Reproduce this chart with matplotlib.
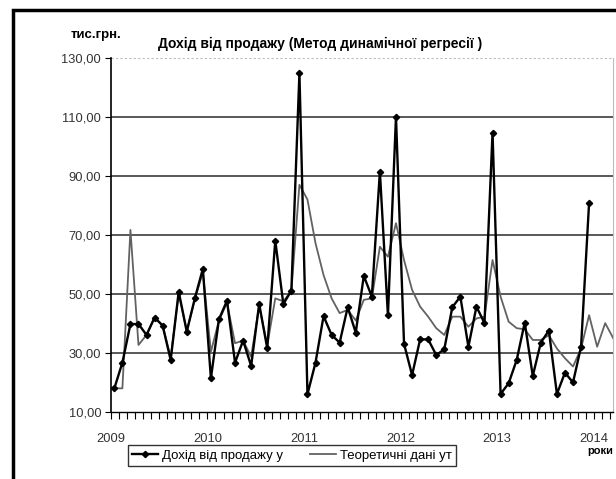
import numpy as np
import matplotlib
matplotlib.use("Agg")
from matplotlib import pyplot as plt
from matplotlib.patches import Rectangle

# monthly revenue, Jan 2009 .. Dec 2013 (тис.грн.)
income = [18.0, 26.7, 39.8, 39.8, 36.1, 42.0, 39.3, 27.6, 50.8, 37.2, 48.5, 58.5,
          21.4, 41.4, 47.7, 26.7, 34.2, 25.6, 46.6, 31.6, 68.1, 46.6, 51.1, 124.8,
          16.0, 26.7, 42.5, 36.1, 33.5, 45.5, 36.9, 56.1, 49.1, 91.5, 42.7, 110.1,
          33.1, 22.5, 34.6, 34.6, 29.3, 31.2, 45.5, 49.1, 32.1, 45.7, 40.1, 104.7,
          16.1, 19.7, 27.6, 40.3, 22.2, 33.5, 37.6, 16.1, 23.3, 20.0, 32.1, 81.0]

# theoretical values, Jan 2009 .. Mar 2014
theor = [18.0, 18.0, 71.7, 32.7, 36.1, 42.0, 39.3, 28.5, 50.0, 37.5, 48.0, 57.5,
         30.4, 41.0, 47.0, 33.3, 34.2, 28.7, 46.0, 32.5, 48.5, 47.5, 51.0, 87.0,
         82.0, 67.2, 56.4, 48.5, 43.5, 44.6, 41.0, 48.0, 48.5, 66.0, 62.6, 74.0,
         61.5, 51.4, 45.7, 42.3, 38.4, 36.1, 42.3, 42.3, 38.9, 41.7, 42.3, 61.5,
         49.1, 40.6, 38.4, 38.0, 34.4, 34.4, 36.0, 31.5, 28.2, 25.4, 31.5, 42.8,
         32.1, 40.1, 35.0]

years = ['2009', '2010', '2011', '2012', '2013', '2014']
yticks = [10, 30, 50, 70, 90, 110, 130]

x_inc = np.arange(len(income))
x_th = np.arange(len(theor))
shift = -0.43  # year label sits a little before the January point
year_pos = [shift + 12 * k for k in range(len(years))]
month_pos = [shift + m for m in range(63)]

plt.rcParams['font.family'] = ['Liberation Sans', 'DejaVu Sans']

fig = plt.figure(figsize=(6.16, 4.79), dpi=100)
ax = fig.add_axes([0.180, 0.140, 0.815, 0.739])

ax.plot(x_th, theor, color='#626262', lw=1.3, label='Теоретичні дані yт', zorder=3)
ax.plot(x_inc, income, color='black', lw=1.7, marker='D', ms=3.2,
        label='Дохід від продажу y', zorder=4)

ax.set_xlim(shift, 61.96)
ax.set_ylim(10, 130)

for v in yticks[1:-1]:
    ax.axhline(v, color='#3c3c3c', lw=1.2, zorder=1)
ax.axhline(130, color='#bbbbbb', lw=0.8, ls=(0, (2, 2)), zorder=1)

ax.set_yticks(yticks)
ax.set_yticklabels(['%d,00' % v for v in yticks])
ax.set_xticks(year_pos)
ax.set_xticklabels(years)
ax.set_xticks(month_pos, minor=True)
ax.tick_params(axis='x', which='both', direction='out', length=5, width=0.8,
               labelsize=9.3, labelcolor='#333333', pad=10)
ax.tick_params(axis='y', direction='out', length=4, width=0.8,
               labelsize=9.3, labelcolor='#333333', pad=3)

ax.spines['top'].set_visible(False)
ax.spines['right'].set_color('#bbbbbb')
ax.spines['right'].set_linewidth(0.8)
ax.spines['left'].set_linewidth(1.2)
ax.spines['bottom'].set_linewidth(1.0)

fig.text(96 / 616, 1 - 35 / 479, 'тис.грн.', fontsize=9.5, fontweight='bold',
         ha='center', va='center')
fig.text(320 / 616, 1 - 44 / 479, 'Дохід від продажу (Метод динамічної регресії )',
         fontsize=10, fontweight='bold', ha='center', va='center')
fig.text(613 / 616, 1 - 451 / 479, 'роки', fontsize=8, fontweight='bold',
         ha='right', va='center')

handles, labels = ax.get_legend_handles_labels()
leg = fig.legend(handles[::-1], labels[::-1], loc='center', ncol=2,
                 bbox_to_anchor=(292 / 616, 1 - 455.5 / 479), fontsize=9.5,
                 fancybox=False, edgecolor='black', frameon=True,
                 handlelength=2.0, columnspacing=2.0, borderpad=0.3,
                 handletextpad=0.3)
leg.get_frame().set_linewidth(1.0)

fig.patches.append(Rectangle((13 / 616, -0.1), 1.2, 1.1 - 10 / 479,
                             transform=fig.transFigure, fill=False,
                             edgecolor='black', lw=2.5))

fig.savefig('out.png', dpi=100)
